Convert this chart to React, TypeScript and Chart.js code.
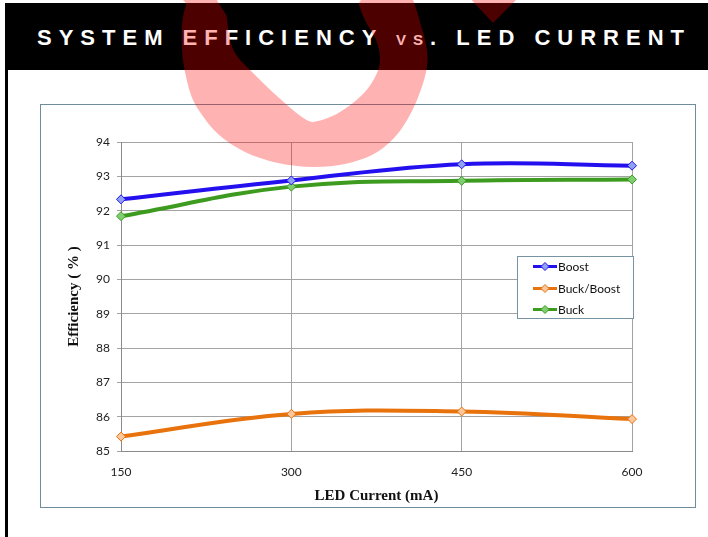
import React, { useEffect, useRef } from "react";
import { Chart, registerables } from "chart.js";

Chart.register(...registerables);

// ---- data ----
const categories = ["150", "300", "450", "600"];
const boostValues = [92.33, 92.88, 93.35, 93.31];
const buckBoostValues = [85.42, 86.08, 86.15, 85.93];
const buckValues = [91.84, 92.7, 92.87, 92.91];
const seriesNames = ["Boost", "Buck/Boost", "Buck"];
const yMin = 85;
const yMax = 94;
const yStep = 1;

const titleParts = ["SYSTEM EFFICIENCY ", "vs. ", "LED CURRENT"];
const xTitle = "LED Current (mA)";
const yTitle = "Efficiency ( % )";

const lineColors = ["#2410ee", "#e8720c", "#3d9b1f"];
const markerFills = ["#8ea2f2", "#fcc79c", "#7fcf72"];

const insideLegend = {
  id: "insideLegend",
  afterDatasetsDraw(chart: any) {
    const { ctx, chartArea } = chart;
    const boxW = 117;
    const boxH = 63;
    const bx = chartArea.right + 2 - boxW;
    const by = chartArea.top + 114;
    ctx.save();
    ctx.fillStyle = "#ffffff";
    ctx.fillRect(bx, by, boxW, boxH);
    ctx.strokeStyle = "#7893a2";
    ctx.lineWidth = 1;
    ctx.strokeRect(bx + 0.5, by + 0.5, boxW - 1, boxH - 1);
    const rows = [10.5, 32.5, 53.5];
    chart.data.datasets.forEach((ds: any, i: number) => {
      const cy = by + rows[i];
      ctx.strokeStyle = ds.borderColor;
      ctx.lineWidth = 3;
      ctx.beginPath();
      ctx.moveTo(bx + 16, cy);
      ctx.lineTo(bx + 40, cy);
      ctx.stroke();
      const cx = bx + 28;
      const r = 4;
      ctx.beginPath();
      ctx.moveTo(cx, cy - r);
      ctx.lineTo(cx + r, cy);
      ctx.lineTo(cx, cy + r);
      ctx.lineTo(cx - r, cy);
      ctx.closePath();
      ctx.fillStyle = ds.pointBackgroundColor;
      ctx.fill();
      ctx.lineWidth = 1;
      ctx.strokeStyle = ds.pointBorderColor;
      ctx.stroke();
      ctx.fillStyle = "#111";
      ctx.font = "12px Lato";
      ctx.textBaseline = "middle";
      ctx.textAlign = "left";
      ctx.fillText(ds.label, bx + 41, cy + 0.5);
    });
    ctx.restore();
  },
};

function smoothClosed(ctx: CanvasRenderingContext2D, pts: number[][]) {
  const n = pts.length;
  ctx.moveTo(pts[0][0], pts[0][1]);
  for (let i = 0; i < n; i++) {
    const p0 = pts[(i - 1 + n) % n];
    const p1 = pts[i];
    const p2 = pts[(i + 1) % n];
    const p3 = pts[(i + 2) % n];
    ctx.bezierCurveTo(
      p1[0] + (p2[0] - p0[0]) / 6,
      p1[1] + (p2[1] - p0[1]) / 6,
      p2[0] - (p3[0] - p1[0]) / 6,
      p2[1] - (p3[1] - p1[1]) / 6,
      p2[0],
      p2[1]
    );
  }
  ctx.closePath();
}

const ringOuter = [
  [194, -12], [186, 5], [182, 25], [182, 50], [185, 72], [191, 95], [200, 112],
  [218, 134], [245, 152], [278, 163], [313, 167], [345, 164], [372, 155], [390, 142],
  [404, 125], [417, 100], [426, 72], [427, 50], [420, 22], [413, 0], [405, -12],
];
const ringInner = [
  [355, -12], [359, 5], [366, 22], [376, 40], [380, 57], [377, 73], [364, 93],
  [340, 112], [318, 121], [305, 119], [278, 97], [251, 71], [237, 56], [230, 40],
  [227, 18], [225, -12],
];

export default function App() {
  const chartRef = useRef<HTMLCanvasElement | null>(null);
  const markRef = useRef<HTMLCanvasElement | null>(null);

  useEffect(() => {
    const mk = markRef.current;
    if (mk) {
      const c = mk.getContext("2d");
      if (c) {
        c.clearRect(0, 0, 708, 537);
        c.fillStyle = "rgba(255,0,0,0.3)";
        c.beginPath();
        smoothClosed(c, ringOuter);
        smoothClosed(c, ringInner);
        c.fill("evenodd");
        c.beginPath();
        c.moveTo(467, -5);
        c.lineTo(521, -5);
        c.lineTo(493, 23);
        c.closePath();
        c.fill();
      }
    }
    if (!chartRef.current) return;
    const tickFont = { family: "Lato", size: 12 };
    const titleFont = { family: "Liberation Serif", size: 15, weight: "bold" as const };
    const makeDs = (label: string, data: number[], i: number) => ({
      label,
      data,
      borderColor: lineColors[i],
      backgroundColor: lineColors[i],
      borderWidth: 4,
      tension: 0.4,
      pointStyle: "rectRot",
      pointRadius: 4.5,
      pointBorderWidth: 1,
      pointBackgroundColor: markerFills[i],
      pointBorderColor: lineColors[i],
      fill: false,
    });
    const chart = new Chart(chartRef.current, {
      type: "line",
      data: {
        labels: categories,
        datasets: [
          makeDs(seriesNames[0], boostValues, 0),
          makeDs(seriesNames[1], buckBoostValues, 1),
          makeDs(seriesNames[2], buckValues, 2),
        ],
      },
      options: {
        animation: false,
        responsive: false,
        devicePixelRatio: 1,
        layout: { padding: { top: 37, right: 63, bottom: 0, left: 0 } },
        plugins: {
          legend: { display: false },
          tooltip: { enabled: false },
          title: { display: false },
        },
        scales: {
          x: {
            type: "category",
            offset: false,
            ticks: { color: "#222", font: tickFont, padding: 14, maxRotation: 0 },
            grid: { color: "#a3a3a3", drawTicks: false },
            border: { color: "#8a8a8a" },
            title: {
              display: true,
              text: xTitle,
              color: "#111",
              font: titleFont,
              padding: { top: 0, bottom: 2 },
            },
            afterFit: (s: any) => {
              s.height = 56;
            },
          },
          y: {
            min: yMin,
            max: yMax,
            ticks: { stepSize: yStep, color: "#222", font: tickFont, padding: 7 },
            grid: { color: "#a3a3a3", tickLength: 4 },
            border: { color: "#8a8a8a" },
            title: {
              display: true,
              text: yTitle,
              color: "#111",
              font: titleFont,
              padding: { top: 24, bottom: 0 },
            },
            afterFit: (s: any) => {
              s.width = 80;
            },
          },
        },
      } as any,
      plugins: [insideLegend],
    });
    return () => chart.destroy();
  }, []);

  return (
    <div
      style={{
        position: "absolute",
        left: 0,
        top: 0,
        width: 708,
        height: 537,
        background: "#fff",
        overflow: "hidden",
      }}
    >
      <div
        style={{
          position: "absolute",
          left: 5,
          top: 3,
          width: 703,
          height: 67,
          background: "#000",
        }}
      >
        <span
          style={{
            position: "absolute",
            left: 32,
            top: 24,
            whiteSpace: "pre",
            color: "#fff",
            fontFamily: "'Liberation Sans', Arial, sans-serif",
            fontWeight: "bold",
            fontSize: 22,
            lineHeight: "22px",
            letterSpacing: 7,
          }}
        >
          {titleParts[0]}
          <span style={{ fontVariant: "small-caps" }}>{titleParts[1]}</span>
          {titleParts[2]}
        </span>
      </div>
      <div
        style={{
          position: "absolute",
          left: 5,
          top: 70,
          width: 3,
          height: 467,
          background: "#000",
        }}
      />
      <div
        style={{
          position: "absolute",
          left: 40,
          top: 104,
          width: 656,
          height: 404,
          boxSizing: "border-box",
          border: "1.5px solid #6e8c9b",
        }}
      />
      <canvas
        ref={chartRef}
        width={654}
        height={402}
        style={{ position: "absolute", left: 41, top: 105, width: 654, height: 402 }}
      />
      <canvas
        ref={markRef}
        width={708}
        height={537}
        style={{
          position: "absolute",
          left: 0,
          top: 0,
          width: 708,
          height: 537,
          pointerEvents: "none",
        }}
      />
    </div>
  );
}
